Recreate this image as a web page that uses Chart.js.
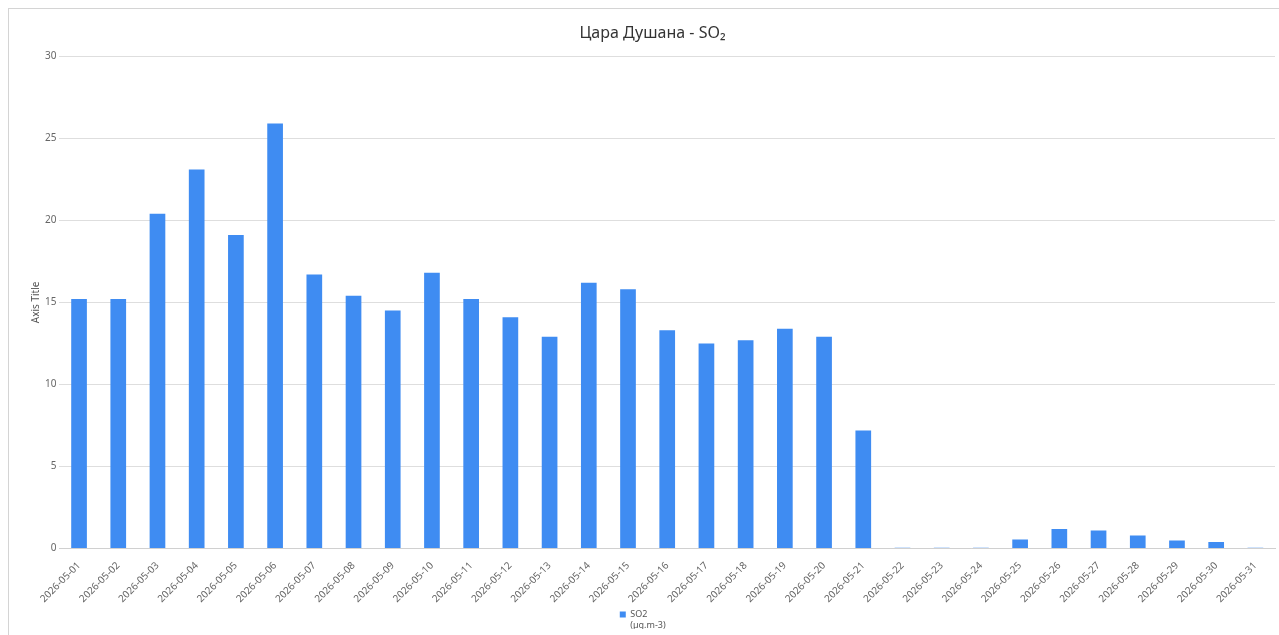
<!DOCTYPE html>
<html>
<head>
<meta charset="utf-8">
<script src="https://cdn.jsdelivr.net/npm/chart.js@4.4.1/dist/chart.umd.min.js"></script>
<style>
  html, body { margin: 0; padding: 0; background: #fff; }
  .frame { position: absolute; left: 8px; top: 8px; width: 1290px; height: 650px; border: 1px solid #d4d4d4; }
  .wrap { position: absolute; left: 0; top: 0; width: 1279px; height: 635px; }
</style>
</head>
<body>
<div class="frame"></div>
<div class="wrap"><canvas id="chart"></canvas></div>
<script>
// Daily SO2 averages, May 2026
const days = [
  '2026-05-01', '2026-05-02', '2026-05-03', '2026-05-04', '2026-05-05', '2026-05-06',
  '2026-05-07', '2026-05-08', '2026-05-09', '2026-05-10', '2026-05-11', '2026-05-12',
  '2026-05-13', '2026-05-14', '2026-05-15', '2026-05-16', '2026-05-17', '2026-05-18',
  '2026-05-19', '2026-05-20', '2026-05-21', '2026-05-22', '2026-05-23', '2026-05-24',
  '2026-05-25', '2026-05-26', '2026-05-27', '2026-05-28', '2026-05-29', '2026-05-30',
  '2026-05-31'
];
const so2Values = [
  15.2, 15.2, 20.4, 23.1, 19.1, 25.9,
  16.7, 15.4, 14.5, 16.8, 15.2, 14.1,
  12.9, 16.2, 15.8, 13.3, 12.5, 12.7,
  13.4, 12.9, 7.2, 0.05, 0.05, 0.05,
  0.55, 1.2, 1.1, 0.8, 0.5, 0.4,
  0.05
];
const seriesLabel = ['SO2', '(µg.m-3)'];
const chartTitle = 'Цара Душана - SO₂';
const yTitle = 'Axis Title';

const FONT = "'Noto Sans', 'Open Sans', sans-serif";

new Chart(document.getElementById('chart'), {
  type: 'bar',
  data: {
    labels: days,
    datasets: [{
      label: seriesLabel,
      data: so2Values,
      backgroundColor: '#3f8cf2',
      borderWidth: 0,
      barPercentage: 0.4,
      categoryPercentage: 1.0
    }]
  },
  options: {
    responsive: true,
    maintainAspectRatio: false,
    animation: false,
    layout: { padding: { left: 30, right: 4, top: 0, bottom: 6 } },
    plugins: {
      title: {
        display: true,
        text: chartTitle,
        color: '#333',
        font: { family: FONT, size: 16, weight: 'normal' },
        padding: { top: 24, bottom: 13 }
      },
      legend: {
        position: 'bottom',
        labels: {
          boxWidth: 6,
          boxHeight: 6,
          color: '#555',
          font: { family: FONT, size: 9 },
          padding: 2
        }
      },
      tooltip: { enabled: false }
    },
    scales: {
      y: {
        min: 0,
        max: 30,
        ticks: { stepSize: 5, color: '#666', font: { family: FONT, size: 10 }, padding: 3 },
        grid: { color: '#dedede', drawTicks: false },
        border: { display: false },
        title: { display: true, text: yTitle, color: '#555', font: { family: FONT, size: 10 }, padding: 0 }
      },
      x: {
        ticks: {
          minRotation: 45,
          maxRotation: 45,
          autoSkip: false,
          color: '#666',
          font: { family: FONT, size: 10 }
        },
        grid: { display: false },
        border: { color: '#d0d0d0' }
      }
    }
  }
});
</script>
</body>
</html>
